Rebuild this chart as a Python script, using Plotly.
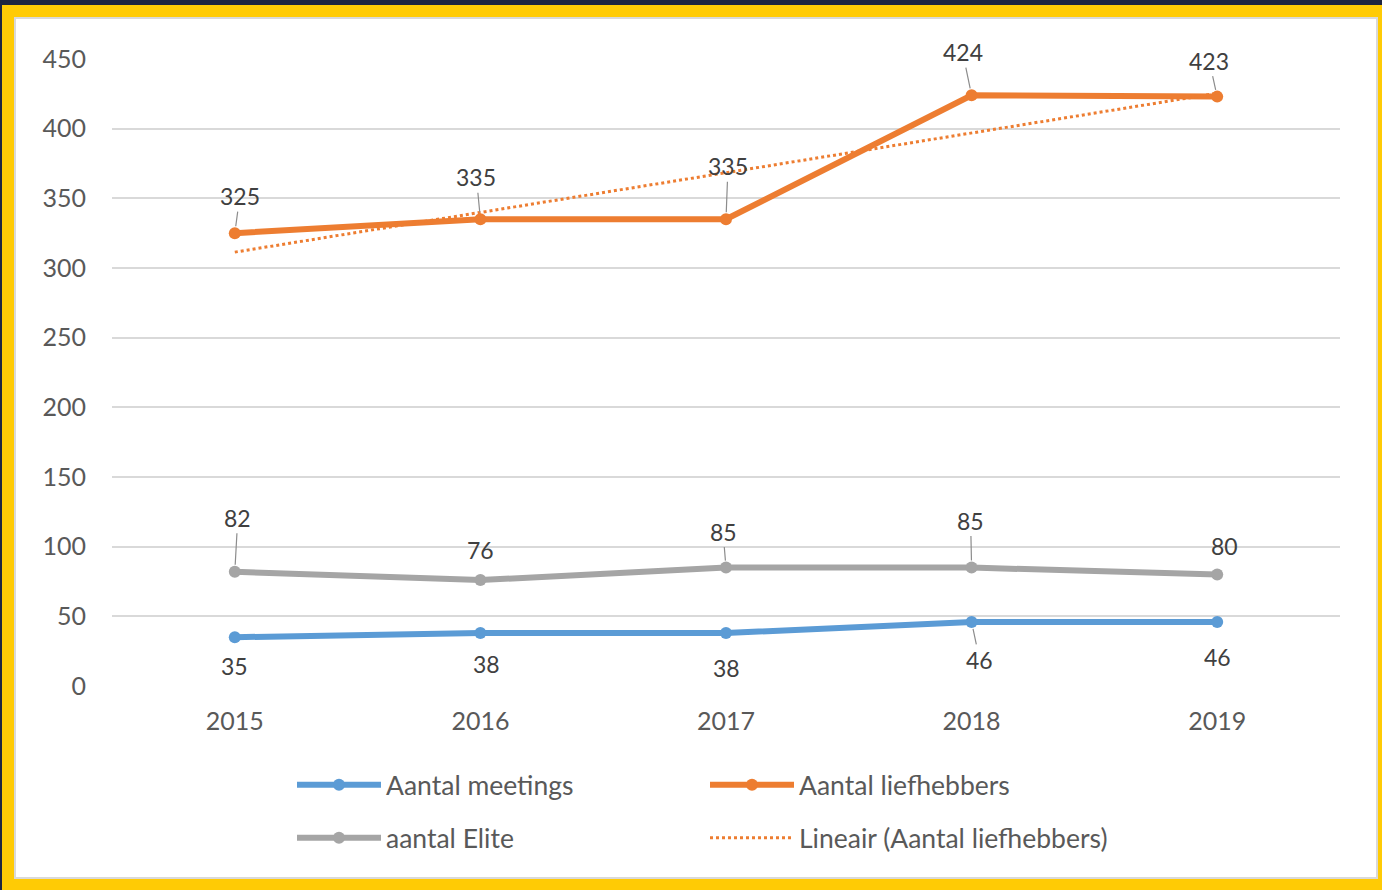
import numpy as np
import plotly.graph_objects as go

years = ["2015", "2016", "2017", "2018", "2019"]
meetings = [35, 38, 38, 46, 46]
liefhebbers = [325, 335, 335, 424, 423]
elite = [82, 76, 85, 85, 80]
y_ticks = [0, 50, 100, 150, 200, 250, 300, 350, 400, 450]

# label offsets in px (style, not data): (dx, dy, leader line)
off_lief = [(5, -37, True), (-4, -42, True), (2, -53, True), (-9, -43, True), (-8, -36, True)]
off_elite = [(3, -54, True), (0, -30, False), (-3, -36, True), (-1, -47, True), (7, -29, False)]
off_meet = [(0, 29, False), (6, 31, False), (0, 35, False), (8, 38, True), (0, 35, False)]

BLUE, ORANGE, GRAY = "#5b9bd5", "#ed7d31", "#a5a5a5"
FONT = "Lato, 'Open Sans', sans-serif"
W, H = 1382, 890
ML, MR, MT, MB = 112, 42, 59, 204
PW, PH = W - ML - MR, H - MT - MB


def px(x):
    return (x - ML) / PW


def py(y):
    return (H - MB - y) / PH


xi = np.arange(len(years))
coef = np.polyfit(xi, np.array(liefhebbers, dtype=float), 1)
trend = np.polyval(coef, xi)

fig = go.Figure()
fig.add_trace(go.Scatter(x=years, y=meetings, name="Aantal meetings", mode="lines+markers",
                         line=dict(color=BLUE, width=6), marker=dict(size=12, color=BLUE),
                         legend="legend", legendrank=1))
fig.add_trace(go.Scatter(x=years, y=liefhebbers, name="Aantal liefhebbers", mode="lines+markers",
                         line=dict(color=ORANGE, width=6), marker=dict(size=12, color=ORANGE),
                         legend="legend", legendrank=2))
fig.add_trace(go.Scatter(x=years, y=elite, name="aantal Elite", mode="lines+markers",
                         line=dict(color=GRAY, width=6), marker=dict(size=12, color=GRAY),
                         legend="legend2", legendrank=3))
fig.add_trace(go.Scatter(x=years, y=trend, name="Lineair (Aantal liefhebbers)", mode="lines",
                         line=dict(color=ORANGE, width=3, dash="dot"),
                         legend="legend2", legendrank=4))

annotations = []
for vals, offs in ((liefhebbers, off_lief), (elite, off_elite), (meetings, off_meet)):
    for i, (v, (dx, dy, lead)) in enumerate(zip(vals, offs)):
        a = dict(x=i, y=v, xref="x", yref="y", text=str(v),
                 font=dict(family=FONT, size=23, color="#404040"))
        if lead:
            a.update(showarrow=True, ax=dx, ay=dy, arrowhead=0, arrowwidth=1.2,
                     arrowcolor="#8c8c8c", standoff=7)
        else:
            a.update(showarrow=False, xshift=dx, yshift=-dy)
        annotations.append(a)

shapes = [
    dict(type="rect", xref="paper", yref="paper", x0=px(0), x1=px(W), y0=py(0), y1=py(5),
         fillcolor="#1e2540", line=dict(width=0), layer="below"),
    dict(type="rect", xref="paper", yref="paper", x0=px(0), x1=px(2), y0=py(0), y1=py(H),
         fillcolor="#1e2540", line=dict(width=0), layer="below"),
    dict(type="rect", xref="paper", yref="paper", x0=px(15), x1=px(1377), y0=py(18), y1=py(878),
         fillcolor="#ffffff", line=dict(color="#d9d9d9", width=2), layer="below"),
]

fig.update_layout(
    width=W, height=H,
    margin=dict(l=ML, r=MR, t=MT, b=MB),
    paper_bgcolor="#FFCB05",
    plot_bgcolor="rgba(0,0,0,0)",
    font=dict(family=FONT, color="#595959", size=25),
    shapes=shapes,
    annotations=annotations,
    xaxis=dict(type="category", range=[-0.5, 4.5], showgrid=False, zeroline=False,
               showline=False, ticks="", ticklabelstandoff=18,
               tickfont=dict(size=25, color="#595959")),
    yaxis=dict(range=[0, 450], tickvals=y_ticks, showgrid=True, gridcolor="#d9d9d9",
               gridwidth=2, zeroline=False, showline=False, ticks="",
               ticklabelstandoff=25, tickfont=dict(size=25, color="#595959")),
    legend=dict(orientation="h", x=px(292), y=py(785), xanchor="left", yanchor="middle",
                entrywidth=314, entrywidthmode="pixels", itemwidth=84,
                bgcolor="rgba(0,0,0,0)", font=dict(size=26.5, color="#595959", family=FONT)),
    legend2=dict(orientation="h", x=px(292), y=py(838), xanchor="left", yanchor="middle",
                 entrywidth=314, entrywidthmode="pixels", itemwidth=84,
                 bgcolor="rgba(0,0,0,0)", font=dict(size=26.5, color="#595959", family=FONT)),
)

fig.write_html("out.html", config={"displayModeBar": False},
               post_script="document.body.style.margin='0';document.body.style.overflow='hidden';")
